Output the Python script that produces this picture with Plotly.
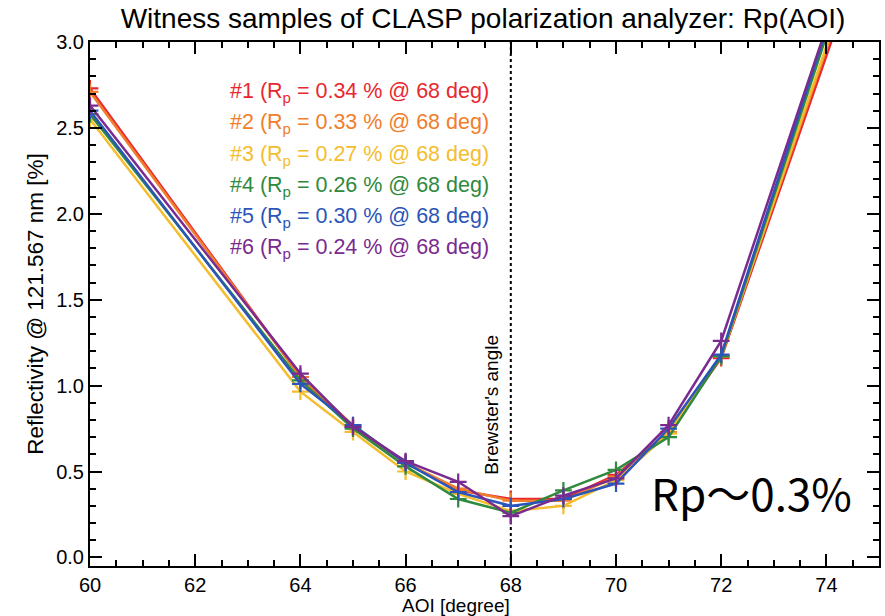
import plotly.graph_objects as go

aoi = [60, 64, 65, 66, 67, 68, 69, 70, 71, 72, 75]
s1 = [2.73, 1.05, 0.76, 0.55, 0.39, 0.34, 0.34, 0.48, 0.73, 1.16, 3.80]
s2 = [2.71, 1.05, 0.77, 0.55, 0.40, 0.33, 0.33, 0.47, 0.73, 1.17, 3.85]
s3 = [2.55, 0.965, 0.73, 0.50, 0.37, 0.27, 0.30, 0.45, 0.72, 1.17, 3.88]
s4 = [2.58, 1.03, 0.75, 0.53, 0.34, 0.26, 0.39, 0.51, 0.70, 1.17, 3.97]
s5 = [2.60, 1.01, 0.77, 0.55, 0.38, 0.30, 0.34, 0.43, 0.75, 1.18, 4.02]
s6 = [2.63, 1.07, 0.76, 0.56, 0.44, 0.24, 0.36, 0.46, 0.77, 1.26, 4.00]
series = [s1, s2, s3, s4, s5, s6]
names = ["#1", "#2", "#3", "#4", "#5", "#6"]
rp_at68 = ["0.34", "0.33", "0.27", "0.26", "0.30", "0.24"]
colors = ["#e8282e", "#f07e2c", "#f4bd2e", "#2f8a3e", "#2b55b8", "#7a2b8f"]

fig = go.Figure()
for name, ys, c in zip(names, series, colors):
    fig.add_trace(go.Scatter(
        x=aoi, y=ys, mode="lines+markers", name=name,
        line=dict(color=c, width=2.5),
        marker=dict(symbol="cross-thin", size=12, line=dict(color=c, width=2.2)),
        showlegend=False, cliponaxis=True))

# Brewster's angle line
fig.add_shape(type="line", x0=68, x1=68, y0=-0.05, y1=3.0, xref="x", yref="y",
              line=dict(color="black", width=2, dash="dot"), layer="below")

ann = []
for i, (name, v, c) in enumerate(zip(names, rp_at68, colors)):
    ann.append(dict(xref="paper", yref="paper", x=0.1745,
                    y=1 - (93 + 31 * i - 42) / 524, xanchor="left", yanchor="middle",
                    text=f"{name} (R<sub>p</sub> = {v} % @ 68 deg)", showarrow=False,
                    font=dict(family="Liberation Sans, Arial", size=21.5, color=c)))
ann.append(dict(xref="x", yref="paper", x=67.62, y=1 - (405 - 42) / 524,
                text="Brewster's angle", textangle=-90, showarrow=False,
                xanchor="center", yanchor="middle",
                font=dict(family="Liberation Sans, Arial", size=19, color="black")))
ann.append(dict(xref="paper", yref="paper", x=(650 - 90) / 791, y=1 - (492 - 42) / 524,
                xanchor="left", yanchor="middle", text="Rp〜0.3%", showarrow=False,
                font=dict(family="Noto Sans CJK JP, Noto Sans", size=44, color="black")))
ann.append(dict(xref="paper", yref="paper", x=(457 - 90) / 791, y=1 - (605 - 42) / 524,
                xanchor="center", yanchor="middle", text="AOI [degree]", showarrow=False,
                font=dict(family="Liberation Sans Narrow, Liberation Sans", size=19, color="black")))

axis_common = dict(showgrid=False, zeroline=False, showline=True, linecolor="black",
                   linewidth=2, mirror="allticks", ticks="inside", tickcolor="black",
                   tickwidth=1.5, ticklen=12,
                   tickfont=dict(family="Liberation Sans Narrow, Liberation Sans", size=20, color="black"))

fig.update_layout(
    width=885, height=616,
    margin=dict(l=90, r=4, t=42, b=50),
    paper_bgcolor="white", plot_bgcolor="white",
    title=dict(text="Witness samples of CLASP polarization analyzer: Rp(AOI)",
               x=483 / 885, xanchor="center", y=1 - 18 / 616, yanchor="middle",
               font=dict(family="Liberation Sans Narrow, Liberation Sans", size=28, color="black")),
    xaxis=dict(range=[60, 75], tickvals=[60, 62, 64, 66, 68, 70, 72, 74],
               minor=dict(dtick=0.5, ticks="inside", ticklen=6, tickcolor="black", tickwidth=1.5),
               **axis_common),
    yaxis=dict(range=[-0.05, 3.0], tickvals=[0, 0.5, 1, 1.5, 2, 2.5, 3],
               tickformat=".1f",
               minor=dict(dtick=0.1, tick0=0, ticks="inside", ticklen=6, tickcolor="black", tickwidth=1.5),
               title=dict(text="Reflectivity @ 121.567 nm [%]", standoff=6,
                          font=dict(family="Liberation Sans, Arial", size=22.5, color="black")),
               **axis_common),
    annotations=ann,
)

fig.write_html("out.html")
